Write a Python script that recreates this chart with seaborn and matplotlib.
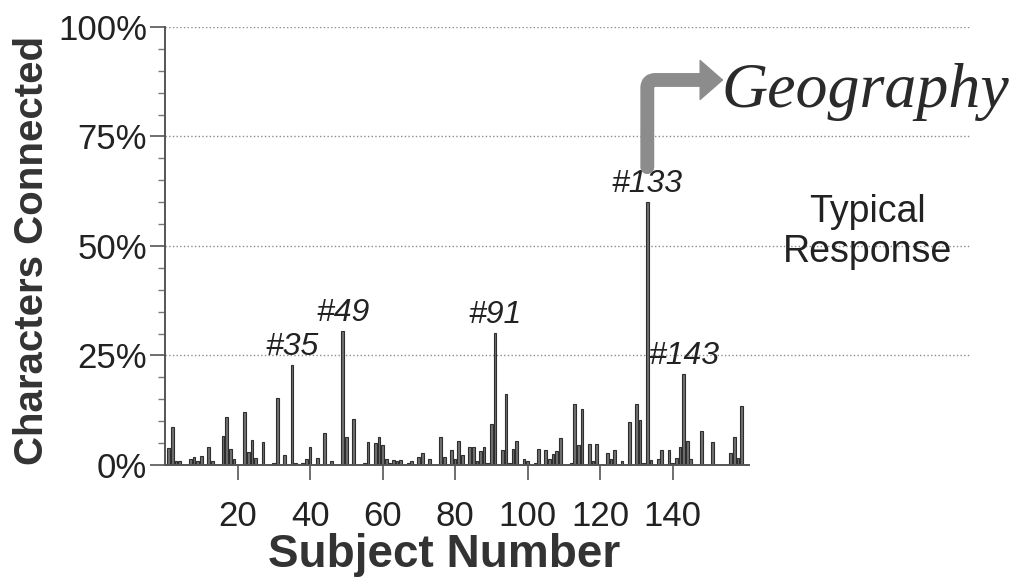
import matplotlib
matplotlib.use('Agg')
import matplotlib.pyplot as plt
from matplotlib import font_manager
from matplotlib.ticker import MultipleLocator, FuncFormatter
import seaborn as sns
import pandas as pd

# subjects with a visible bar (all others are 0)
subjects = [1, 2, 3, 4, 7, 8, 9, 10, 12, 13, 16, 17, 18, 19, 22, 23, 24, 25, 27, 30,
            31, 33, 35, 36, 38, 39, 40, 42, 44, 46, 49, 50, 52, 55, 56, 58, 59, 60, 61, 62,
            63, 64, 65, 67, 68, 70, 71, 73, 76, 77, 79, 80, 81, 82, 84, 85, 86, 87, 88, 89,
            90, 91, 93, 94, 95, 96, 97, 99, 100, 102, 103, 105, 106, 107, 108, 109, 112, 113, 114, 115,
            117, 118, 119, 122, 123, 124, 126, 128, 130, 131, 132, 133, 134, 136, 137, 139, 140, 141, 142, 143,
            144, 145, 148, 151, 156, 157, 158, 159]
pct_connected = [3.8, 8.6, 1.0, 1.0, 1.4, 1.9, 1.0, 2.0, 4.0, 1.0, 6.7, 11.0, 3.7, 1.4, 12.0, 2.9, 5.6, 1.6, 5.3, 0.5,
                 15.4, 2.3, 22.8, 0.5, 0.5, 1.3, 4.0, 1.6, 7.2, 0.8, 30.6, 6.3, 10.4, 0.5, 5.2, 5.1, 6.5, 4.6, 1.4, 0.5,
                 1.1, 0.9, 1.1, 0.5, 0.8, 1.8, 2.7, 1.4, 6.4, 1.8, 3.5, 1.4, 5.4, 2.2, 4.2, 4.0, 0.9, 3.2, 4.0, 0.5,
                 9.3, 30.1, 3.4, 16.1, 0.5, 3.6, 5.5, 1.3, 0.9, 0.5, 3.7, 3.4, 1.3, 2.4, 3.1, 6.1, 0.5, 14.0, 4.5, 12.7,
                 4.9, 0.9, 4.9, 2.8, 1.3, 3.4, 0.9, 9.9, 14.0, 10.3, 0.5, 60.0, 1.1, 1.3, 3.4, 3.4, 0.5, 1.5, 4.2, 20.8,
                 5.5, 1.3, 7.8, 5.3, 2.7, 6.4, 1.5, 13.4]
highlighted = [35, 49, 91, 133, 143]
y_ticks = [0, 25, 50, 75, 100]
x_ticks = [20, 40, 60, 80, 100, 120, 140]

df = pd.DataFrame({'subject': subjects, 'pct': pct_connected})


def has_font(name):
    try:
        font_manager.findfont(font_manager.FontProperties(family=name),
                              fallback_to_default=False)
        return True
    except ValueError:
        return False


sns.set_style('ticks')
plt.rcParams['font.family'] = ['Liberation Sans', 'DejaVu Sans']

fig, ax = plt.subplots(figsize=(10.1, 5.79), dpi=100)
fig.subplots_adjust(left=0.1634, right=0.9604, bottom=0.1969, top=0.9534)

sns.barplot(data=df, x='subject', y='pct', native_scale=True, width=0.75,
            color='#707070', saturation=1, edgecolor='#2e2e2e', linewidth=0.8,
            errorbar=None, ax=ax)

ax.set_xlim(0, 222)
ax.set_ylim(0, 100)
ax.set_axisbelow(True)
ax.grid(axis='y', which='major', ls=':', color='#8c8c8c', lw=1.0)

for side in ['top', 'right']:
    ax.spines[side].set_visible(False)
for side in ['left', 'bottom']:
    ax.spines[side].set_color('#555555')
    ax.spines[side].set_linewidth(1.4)
ax.spines['bottom'].set_bounds(0, 161)

ax.set_yticks(y_ticks)
ax.yaxis.set_minor_locator(MultipleLocator(5))
ax.yaxis.set_major_formatter(FuncFormatter(lambda v, p: f'{v:.0f}%'))
ax.set_xticks(x_ticks)
ax.set_xticklabels([str(t) for t in x_ticks])
ax.tick_params(axis='y', which='major', length=11, width=1.2, pad=2,
               labelsize=25, color='#555555', labelcolor='#222222')
ax.tick_params(axis='y', which='minor', length=5, width=1.0, color='#777777')
ax.tick_params(axis='x', which='major', length=11, width=1.2, pad=14,
               labelsize=25, color='#555555', labelcolor='#222222')
# no dotted line along the 0% baseline
ax.yaxis.get_gridlines()[0].set_visible(False)

# axis labels
if has_font('Liberation Sans Narrow'):
    ylab_font = dict(family=['Liberation Sans Narrow', 'DejaVu Sans'], size=36)
else:
    ylab_font = dict(family=['Liberation Sans', 'DejaVu Sans'], size=29)
ax.set_ylabel('Characters Connected', fontweight='bold', color='#333333',
              va='center', **ylab_font)
ax.yaxis.set_label_coords(-0.165, 0.49)
ax.set_xlabel('Subject Number', fontsize=33, fontweight='bold', color='#333333',
              va='center')
ax.xaxis.set_label_coords(0.347, -0.205)

# labels on the outstanding subjects
lookup = dict(zip(subjects, pct_connected))
for s in highlighted:
    ax.annotate(f'#{s}', xy=(s, lookup[s]), xytext=(0, 2), textcoords='offset points',
                ha='center', va='bottom', fontsize=23, style='italic', color='#222222')

# elbow arrow from #133 to the handwritten sample
ax.annotate('', xy=(147.6, 87.9), xytext=(133, 68.0),
            arrowprops=dict(arrowstyle='-', connectionstyle='angle,angleA=90,angleB=0,rad=8',
                            lw=10, color='#8c8c8c', shrinkA=0, shrinkB=0))
ax.annotate('', xy=(154.0, 87.9), xytext=(147.0, 87.9),
            arrowprops=dict(arrowstyle='-|>,head_length=0.8,head_width=0.7', lw=1,
                            mutation_scale=20, color='#8c8c8c', shrinkA=0, shrinkB=0))

fig.text(865 / 1010, 1 - 92 / 579, 'Geography', fontsize=46, style='italic',
         family=['Liberation Serif', 'DejaVu Serif'], color='#2a2a2a',
         ha='center', va='center')
fig.text(867 / 1010, 1 - 232 / 579, 'Typical\nResponse', fontsize=27,
         color='#222222', ha='center', va='center', linespacing=1.15)

fig.savefig('out.png', dpi=100)
